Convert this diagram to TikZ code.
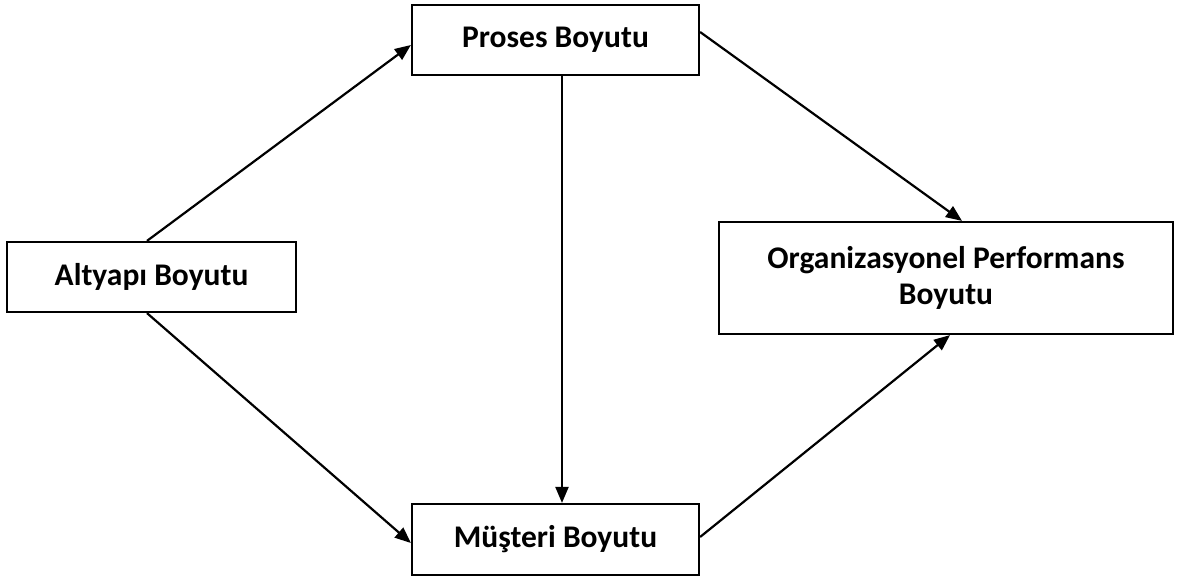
\documentclass[tikz,border=0pt]{standalone}
\usepackage{fontspec}
\setmainfont{Carlito}
\usetikzlibrary{arrows.meta}
\begin{document}
\begin{tikzpicture}[x=1pt,y=-1pt,
  dimbox/.style={draw=black,line width=2.2pt,fill=white,inner sep=0pt,align=center,
    font=\fontsize{31.5}{36}\selectfont\bfseries},
  link/.style={line width=2.2pt,-{Triangle[length=16pt,width=13pt]}}]
  \useasboundingbox[fill=white] (0,0) rectangle (1178,580);

  % dimension boxes
  \node[dimbox,minimum width=287pt,minimum height=70pt] (pro) at (555.5,40) {Proses Boyutu};
  \node[dimbox,minimum width=289pt,minimum height=70pt] (alt) at (151.5,277) {Altyapı Boyutu};
  \node[dimbox,minimum width=454pt,minimum height=112pt] (org) at (946,278)
    {Organizasyonel Performans\\Boyutu};
  \node[dimbox,minimum width=287pt,minimum height=71pt] (mus) at (555.5,539.5) {Müşteri Boyutu};

  % relations between dimensions
  \draw[link] ([xshift=-4.5pt]alt.north) -- ([yshift=-5pt]pro.west);
  \draw[link] ([xshift=-4.5pt]alt.south) -- ([yshift=-3.5pt]mus.west);
  \draw[link] ([xshift=6.5pt]pro.south) -- ([xshift=6.5pt]mus.north);
  \draw[link] ([yshift=8pt]pro.east) -- ([xshift=16pt]org.north);
  \draw[link] ([yshift=2.5pt]mus.east) -- ([xshift=4pt]org.south);
\end{tikzpicture}
\end{document}
